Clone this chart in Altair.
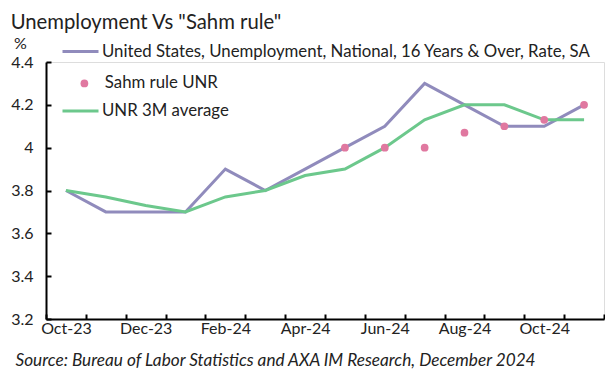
import altair as alt
import pandas as pd

months = ["Oct-23", "Nov-23", "Dec-23", "Jan-24", "Feb-24", "Mar-24", "Apr-24",
          "May-24", "Jun-24", "Jul-24", "Aug-24", "Sep-24", "Oct-24", "Nov-24"]
unemp = [3.8, 3.7, 3.7, 3.7, 3.9, 3.8, 3.9, 4.0, 4.1, 4.3, 4.2, 4.1, 4.1, 4.2]
sahm = [None, None, None, None, None, None, None, 4.0, 4.0, 4.0, 4.07, 4.1, 4.13, 4.2]
avg3m = [3.8, 3.77, 3.73, 3.7, 3.77, 3.8, 3.87, 3.9, 4.0, 4.13, 4.2, 4.2, 4.13, 4.13]
y_ticks = [3.2, 3.4, 3.6, 3.8, 4.0, 4.2, 4.4]

S1 = "United States, Unemployment, National, 16 Years & Over, Rate, SA"
S2 = "Sahm rule UNR"
S3 = "UNR 3M average"
colors = {S1: "#908bbc", S2: "#e078a0", S3: "#6cc88c"}

rows = []
for name, vals in [(S1, unemp), (S2, sahm), (S3, avg3m)]:
    for i, v in enumerate(vals):
        if v is not None:
            rows.append({"idx": i, "month": months[i], "series": name, "value": v})
df = pd.DataFrame(rows)

FONT = "Lato"
TXT = "#222222"
n = len(months)
xscale = alt.Scale(domain=[-0.5, n - 0.5], nice=False, zero=False)
yscale = alt.Scale(domain=[3.2, 4.4], nice=False, zero=False)

month_arr = "[" + ",".join("'" + m + "'" for m in months) + "]"
x_values = [i / 2 - 0.5 for i in range(2 * n + 1)]

x_axis = alt.Axis(
    values=x_values,
    labelExpr="(datum.value % 2 == 0) ? " + month_arr + "[datum.value] : ''",
    ticks=True, tickSize=alt.ExprRef("-5"), tickWidth=2, tickColor="black",
    tickOpacity=alt.ExprRef("(datum.value % 1 == 0) ? 0 : 1"),
    grid=False, domain=True, domainColor="black", domainWidth=2,
    labelFont=FONT, labelFontSize=16, labelColor=TXT, labelPadding=6,
    labelFlush=False, labelOverlap=False, labelBound=False,
    title="Source: Bureau of Labor Statistics and AXA IM Research, December 2024",
    titleFont=FONT, titleFontSize=17.2, titleFontStyle="italic", titleFontWeight="normal",
    titleColor=TXT, titleAnchor="start", titleAlign="left", titleX=-31, titleY=41,
    titleBaseline="middle", orient="bottom")
y_axis = alt.Axis(
    values=y_ticks, format="~g", ticks=True, tickSize=alt.ExprRef("-5"), tickWidth=2,
    tickColor="black", grid=False, domain=True,
    domainColor="black", domainWidth=2, labelFont=FONT, labelFontSize=16,
    labelColor=TXT, labelPadding=18, labelFlush=False,
    title="%", titleAngle=0, titleFont=FONT, titleFontSize=16, titleFontWeight="normal",
    titleColor=TXT, titleX=-26, titleY=-19, titleAlign="center",
    titleBaseline="middle", orient="left")


def legend_for(ypos, is_point):
    common = dict(orient="none", legendY=ypos, title=None,
                  labelFont=FONT, labelFontSize=16.8, labelColor=TXT, labelLimit=700)
    if is_point:
        return alt.Legend(symbolType="circle", symbolSize=60, symbolOpacity=1,
                          symbolOffset=13, labelOffset=12, legendX=17, **common)
    return alt.Legend(symbolType="stroke", symbolSize=1296, symbolStrokeWidth=3,
                      labelOffset=2, legendX=15, **common)


def series_color(name, ypos, is_point):
    return alt.Color("series:N",
                     scale=alt.Scale(domain=[name], range=[colors[name]]),
                     legend=legend_for(ypos, is_point))


X = alt.X("idx:Q", scale=xscale, axis=x_axis)
Y = alt.Y("value:Q", scale=yscale, axis=y_axis)

base = alt.Chart(df)
line1 = base.transform_filter(alt.datum.series == S1).mark_line(strokeWidth=3).encode(
    x=X, y=Y, color=series_color(S1, -30, False))
pts = base.transform_filter(alt.datum.series == S2).mark_circle(size=60, opacity=1).encode(
    x=X, y=Y, color=series_color(S2, 13, True))
line3 = base.transform_filter(alt.datum.series == S3).mark_line(strokeWidth=3).encode(
    x=X, y=Y, color=series_color(S3, 29.5, False))

chart = alt.layer(line1, line3, pts).resolve_scale(color="independent").properties(
    width=558, height=257, padding={"top": 5, "left": 2, "right": 0, "bottom": 0},
    title=alt.TitleParams(text='Unemployment Vs "Sahm rule"', anchor="start", font=FONT,
                          fontSize=20.3, fontWeight="normal", color=TXT, offset=-1.5),
).configure_view(stroke=None).configure(background="white")

chart.save("out.html", embed_options={"renderer": "svg", "actions": False})
